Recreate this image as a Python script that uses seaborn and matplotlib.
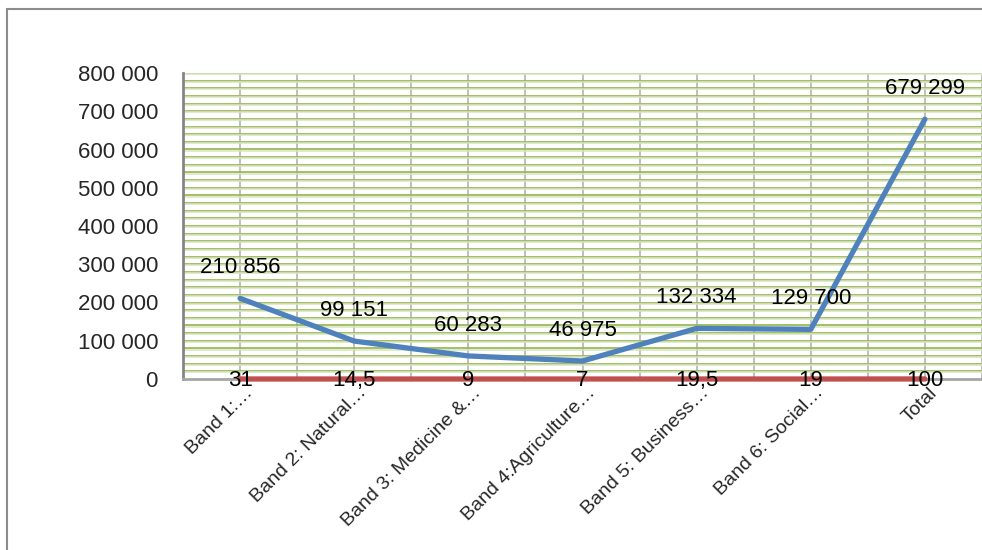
import numpy as np
import pandas as pd
import matplotlib
matplotlib.use("Agg")
import matplotlib.pyplot as plt
import matplotlib.patches as mpatches
import matplotlib.transforms as mtransforms
from matplotlib.ticker import FuncFormatter, MultipleLocator
import seaborn as sns

# data
bandas = ["Band 1:…", "Band 2: Natural…", "Band 3: Medicine &…",
          "Band 4:Agriculture…", "Band 5: Business…", "Band 6: Social…", "Total"]
valores = [210856, 99151, 60283, 46975, 132334, 129700, 679299]
percentuais = [31, 14.5, 9, 7, 19.5, 19, 100]
rotulos_pct = ["31", "14,5", "9", "7", "19,5", "19", "100"]

sns.set_theme(style="white")
plt.rcParams['font.family'] = ['Liberation Sans Narrow', 'Liberation Sans', 'DejaVu Sans']

df = pd.DataFrame({'banda': bandas, 'valor': valores, 'pct': percentuais})

fig = plt.figure(figsize=(9.82, 5.5), dpi=100)
ax = fig.add_axes([183 / 982, 1 - 379 / 550, 1 - 183 / 982, (379 - 73) / 550])

# grade horizontal verde dupla
linhas = np.arange(0, 800001, 20000)
ax.hlines(linhas[1:], -0.5, 6.5, colors='#9bbb59', linewidth=1.3, zorder=1)
ax.hlines(linhas[1:] - 2900, -0.5, 6.5, colors='#d7e4bd', linewidth=1.1, zorder=1)

ax.xaxis.set_minor_locator(MultipleLocator(0.5))
ax.grid(axis='x', which='both', color='#bfbfbf', linewidth=1.4, zorder=1)

sns.lineplot(data=df, x='banda', y='valor', color='#4f81bd', linewidth=3.8,
             ax=ax, sort=False, zorder=3)
sns.lineplot(data=df, x='banda', y='pct', color='#c0504d', linewidth=3.8,
             ax=ax, sort=False, zorder=5)
for linha in ax.get_lines():
    linha.set_clip_on(False)

for i, v in enumerate(valores):
    ax.annotate(f"{v:,}".replace(",", " "), (i, v), xytext=(0, 22),
                textcoords='offset points', ha='center', va='center',
                fontsize=16, color='black', zorder=6)
for i, (p, txt) in enumerate(zip(percentuais, rotulos_pct)):
    ax.annotate(txt, (i, p), xytext=(0, -1), textcoords='offset points',
                ha='center', va='center', fontsize=16, color='black', zorder=6)

ax.set_xlim(-0.5, 6.5)
ax.set_ylim(0, 800000)
ax.yaxis.set_major_locator(MultipleLocator(100000))
ax.yaxis.set_major_formatter(FuncFormatter(lambda v, p: f"{int(v):,}".replace(",", " ")))
ax.tick_params(axis='y', labelsize=16, length=0, pad=18)
ax.tick_params(axis='x', labelsize=14, length=0, pad=8)
desloc = mtransforms.ScaledTranslation(10 / 100, 0, fig.dpi_scale_trans)
for rot in ax.get_xticklabels():
    rot.set_rotation(45)
    rot.set_ha('right')
    rot.set_va('center')
    rot.set_rotation_mode('anchor')
    rot.set_transform(rot.get_transform() + desloc)
ax.set_xlabel('')
ax.set_ylabel('')

for lado in ['top', 'right']:
    ax.spines[lado].set_visible(False)
ax.spines['left'].set_color('#868686')
ax.spines['left'].set_linewidth(2)
ax.spines['bottom'].set_color('#a6a6a6')
ax.spines['bottom'].set_linewidth(2)
ax.set_facecolor('white')

# moldura do gráfico (cortada à direita e embaixo)
moldura = mpatches.Rectangle((7 / 982, -0.1), 2, 1.1 - 9 / 550, transform=fig.transFigure,
                             fill=False, edgecolor='#8c8c8c', linewidth=1.5)
fig.patches.append(moldura)

fig.savefig('out.png', dpi=100)
